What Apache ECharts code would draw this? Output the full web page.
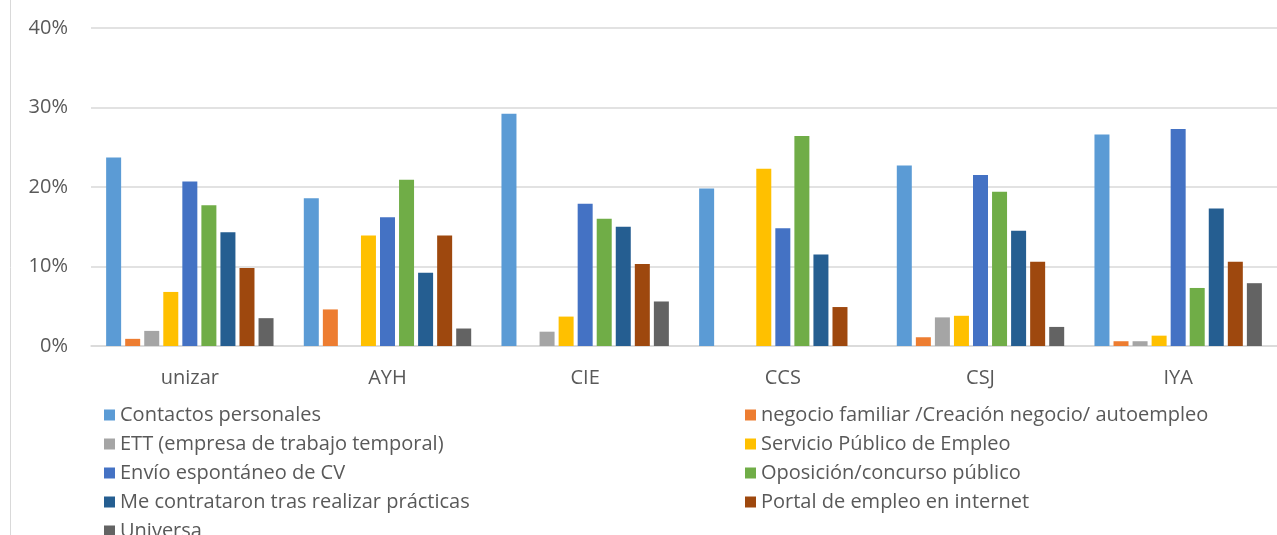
<!DOCTYPE html>
<html>
<head>
<meta charset="utf-8">
<script src="https://cdn.jsdelivr.net/npm/echarts@6/dist/echarts.min.js"></script>
<style>
html,body{margin:0;padding:0;background:#fff;}
#chart{width:1277px;height:535px;}
</style>
</head>
<body>
<div id="chart"></div>
<script>
const categories = ['unizar', 'AYH', 'CIE', 'CCS', 'CSJ', 'IYA'];
const seriesNames = [
  'Contactos personales',
  'negocio familiar /Creación negocio/ autoempleo',
  'ETT (empresa de trabajo temporal)',
  'Servicio Público de Empleo',
  'Envío espontáneo de CV',
  'Oposición/concurso público',
  'Me contrataron tras realizar prácticas',
  'Portal de empleo en internet',
  'Universa'
];
const contactos     = [23.7, 18.6, 29.2, 19.8, 22.7, 26.6];
const negocio       = [0.9, 4.6, 0, 0, 1.1, 0.6];
const ett           = [1.9, 0, 1.8, 0, 3.6, 0.6];
const servicio      = [6.8, 13.9, 3.7, 22.3, 3.8, 1.3];
const envio         = [20.7, 16.2, 17.9, 14.8, 21.5, 27.3];
const oposicion     = [17.7, 20.9, 16.0, 26.4, 19.4, 7.3];
const practicas     = [14.3, 9.2, 15.0, 11.5, 14.5, 17.3];
const portal        = [9.8, 13.9, 10.3, 4.9, 10.6, 10.6];
const universa      = [3.5, 2.2, 5.6, 0, 2.4, 7.9];
const yTicks = [0, 10, 20, 30, 40];

const seriesData = [contactos, negocio, ett, servicio, envio, oposicion, practicas, portal, universa];
const colors = ['#5B9BD5', '#ED7D31', '#A5A5A5', '#FFC000', '#4472C4', '#70AD47', '#255E91', '#9E480E', '#636363'];

const font = "'Open Sans', sans-serif";
const chart = echarts.init(document.getElementById('chart'));

const legendCommon = {
  orient: 'vertical',
  top: 405,
  height: 300,
  padding: 0,
  itemWidth: 11,
  itemHeight: 11,
  itemGap: 9,
  icon: 'rect',
  textStyle: { color: '#595959', fontSize: 20, fontFamily: font, lineHeight: 20 }
};

chart.setOption({
  animation: false,
  color: colors,
  textStyle: { fontFamily: font },
  grid: { left: 91, top: 28, width: 1188, height: 318, containLabel: false },
  legend: [
    Object.assign({ left: 104, data: seriesNames.filter((_, i) => i % 2 === 0) }, legendCommon),
    Object.assign({ left: 745, data: seriesNames.filter((_, i) => i % 2 === 1) }, legendCommon)
  ],
  xAxis: {
    type: 'category',
    data: categories,
    axisLine: { show: true, lineStyle: { color: '#d9d9d9', width: 1.5 } },
    axisTick: { show: false },
    axisLabel: { color: '#595959', fontSize: 20, fontFamily: font, margin: 22 }
  },
  yAxis: {
    type: 'value',
    min: yTicks[0],
    max: yTicks[yTicks.length - 1],
    interval: 10,
    axisLine: { show: false },
    axisTick: { show: false },
    splitLine: { lineStyle: { color: '#d9d9d9', width: 1.5 } },
    axisLabel: { color: '#595959', fontSize: 20, fontFamily: font, margin: 23, formatter: '{value}%' }
  },
  series: seriesNames.map((name, i) => ({
    name: name,
    type: 'bar',
    data: seriesData[i],
    barWidth: 15,
    barGap: '27%',
    itemStyle: { color: colors[i] }
  })),
  graphic: [{
    type: 'line',
    shape: { x1: 10.5, y1: 0, x2: 10.5, y2: 535 },
    style: { stroke: '#d9d9d9', lineWidth: 1 }
  }]
});
</script>
</body>
</html>
